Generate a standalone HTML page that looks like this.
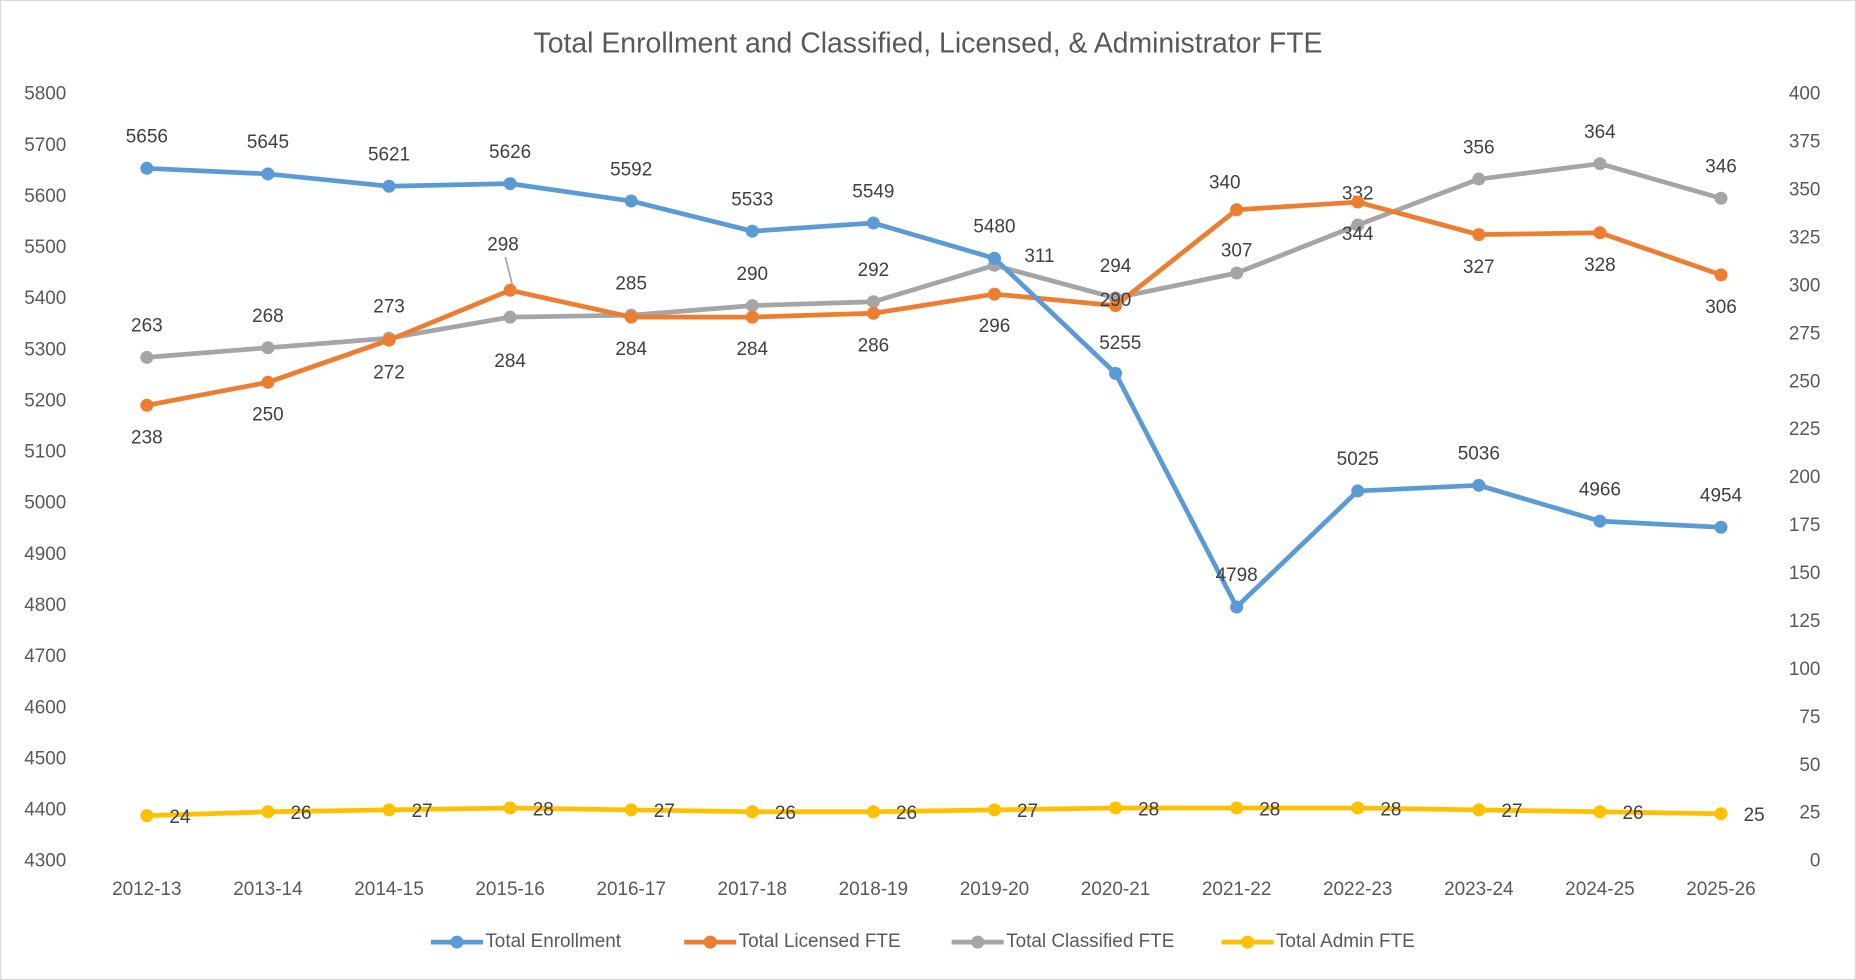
<!DOCTYPE html>
<html><head><meta charset="utf-8"><style>
html,body{margin:0;padding:0;background:#fff;}
svg{display:block;font-family:"Liberation Sans",Calibri,sans-serif;}
</style></head><body>
<svg id="chart" width="1856" height="980" viewBox="0 0 1568 828" xmlns="http://www.w3.org/2000/svg">
<rect x="0.5" y="0.5" width="1567" height="827" fill="#fff" stroke="#d9d9d9"/>
<text x="784" y="38" text-anchor="middle" dominant-baseline="middle" font-size="24" fill="#595959">Total Enrollment and Classified, Licensed, &amp; Administrator FTE</text>
<g id="axes"></g><g id="series"></g><g id="legend"></g>
</svg>
<script>
const categories=["2012-13","2013-14","2014-15","2015-16","2016-17","2017-18","2018-19","2019-20","2020-21","2021-22","2022-23","2023-24","2024-25","2025-26"];
const enrollment=[5656,5645,5621,5626,5592,5533,5549,5480,5255,4798,5025,5036,4966,4954];
const licensed=[238,250,272,298,284,284,286,296,290,340,344,327,328,306];
const classified=[263,268,273,284,285,290,292,311,294,307,332,356,364,346];
const admin=[24,26,27,28,27,26,26,27,28,28,28,27,26,25];
const leftTicks=[4300,4400,4500,4600,4700,4800,4900,5000,5100,5200,5300,5400,5500,5600,5700,5800];
const rightTicks=[0,25,50,75,100,125,150,175,200,225,250,275,300,325,350,375,400];

const NS="http://www.w3.org/2000/svg";
const X0=124,X1=1454,YT=80,YB=728;
const xs=i=>X0+(X1-X0)*i/(categories.length-1);
const yl=v=>YB-(v-4300)/(5800-4300)*(YB-YT);
const yr=v=>YB-v/400*(YB-YT);
function mk(tag,attrs,parent){const e=document.createElementNS(NS,tag);for(const k in attrs)e.setAttribute(k,attrs[k]);parent.appendChild(e);return e;}
const axes=document.getElementById('axes'),ser=document.getElementById('series'),leg=document.getElementById('legend');
leftTicks.forEach(t=>{const e=mk('text',{x:56,y:yl(t),'text-anchor':'end','dominant-baseline':'middle','font-size':16,fill:'#595959'},axes);e.textContent=t;

});
rightTicks.forEach(t=>{const e=mk('text',{x:1538,y:yr(t),'text-anchor':'end','dominant-baseline':'middle','font-size':16,fill:'#595959'},axes);e.textContent=t;

});
categories.forEach((c,i)=>{const e=mk('text',{x:xs(i),y:752,'text-anchor':'middle','dominant-baseline':'middle','font-size':16,fill:'#595959'},axes);e.textContent=c;

});

const enrOff=categories.map(()=>[0,-26]);enrOff[8]=[4,-25];enrOff[9]=[0,-26];
const licOff=categories.map(()=>[0,28]);licOff[3]=[-6,-38];licOff[8]=[0,-4];licOff[9]=[-10,-22];licOff[10]=[0,28];
const claOff=categories.map(()=>[0,-26]);claOff[3]=[0,38];claOff[7]=[38,-7];claOff[9]=[0,-18];claOff[10]=[0,-26];
const admOff=categories.map(()=>[28,2]);

function series(vals,scale,color,name,off){
  const g=mk('g',{},ser);
  
  
  const pts=vals.map((v,i)=>xs(i)+','+scale(v)).join(' ');
  const pl=mk('polyline',{points:pts,fill:'none',stroke:color,'stroke-width':4,'stroke-linejoin':'round'},g);
  
  
  vals.forEach((v,i)=>{
    const c=mk('circle',{cx:xs(i),cy:scale(v),r:5.5,fill:color},g);
    
    
    const t=mk('text',{x:xs(i)+off[i][0],y:scale(v)+off[i][1],'text-anchor':'middle','dominant-baseline':'middle','font-size':16,fill:'#404040'},g);
    t.textContent=v;
    
    
  });
}
const ld=mk('line',{x1:xs(3)-4,y1:yr(licensed[3])-28,x2:xs(3)+2,y2:yr(licensed[3])-4,stroke:'#a6a6a6','stroke-width':1.5},ser);


series(classified,yr,'#a5a5a5','classified',claOff);
series(licensed,yr,'#ed7d31','licensed',licOff);
series(enrollment,yl,'#5b9bd5','enrollment',enrOff);
series(admin,yr,'#ffc000','admin',admOff);

const legendItems=[["Total Enrollment","#5b9bd5",364],["Total Licensed FTE","#ed7d31",578],["Total Classified FTE","#a5a5a5",804],["Total Admin FTE","#ffc000",1032]];
legendItems.forEach(([n,c,x])=>{
  const g=mk('g',{},leg);
  
  
  mk('line',{x1:x,y1:796,x2:x+44,y2:796,stroke:c,'stroke-width':4},g);
  mk('circle',{cx:x+22,cy:796,r:5.5,fill:c},g);
  const t=mk('text',{x:x+46,y:796,'dominant-baseline':'middle','font-size':16,fill:'#595959'},g);t.textContent=n;
});
</script>
</body></html>
